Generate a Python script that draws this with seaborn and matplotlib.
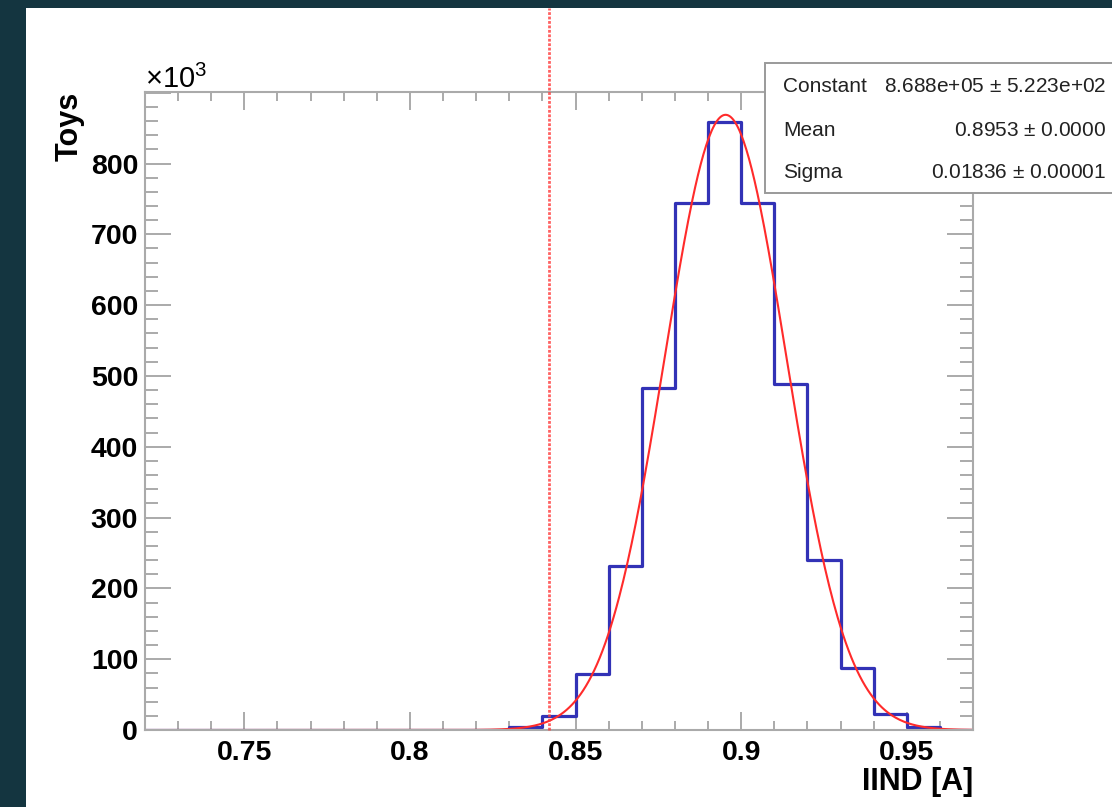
import numpy as np
import pandas as pd
import matplotlib
matplotlib.use("Agg")
import matplotlib.pyplot as plt
from matplotlib.patches import Rectangle
from matplotlib.ticker import MultipleLocator, FuncFormatter
import seaborn as sns

# ---- data -------------------------------------------------------------
bin_width = 0.01
bin_low_edges = [0.72, 0.73, 0.74, 0.75, 0.76, 0.77, 0.78, 0.79,
                 0.80, 0.81, 0.82, 0.83, 0.84, 0.85, 0.86, 0.87,
                 0.88, 0.89, 0.90, 0.91, 0.92, 0.93, 0.94, 0.95, 0.96]
toys = [0, 0, 0, 0, 0, 0, 0, 0,
        0, 60, 600, 3900, 19500, 78500, 231500, 483000,
        744500, 858000, 744500, 488000, 240000, 87000, 22000, 4200, 700]

fit_constant, fit_constant_err = 8.688e5, 5.223e2
fit_mean, fit_mean_err = 0.8953, 0.0000
fit_sigma, fit_sigma_err = 0.01836, 0.00001
threshold = 0.8419

x_range = (0.72, 0.97)
y_max = 901000
x_title = "IIND [A]"
y_title = "Toys"

# ---- style --------------------------------------------------------------
sns.set_style("ticks")
plt.rcParams["font.family"] = ["Liberation Sans", "DejaVu Sans"]
plt.rcParams["mathtext.fontset"] = "custom"
plt.rcParams["mathtext.rm"] = "Liberation Sans"
plt.rcParams["text.color"] = "black"

W, H = 1112, 807
fig = plt.figure(figsize=(W / 100, H / 100), dpi=100)
fig.patch.set_facecolor("#143540")

# white canvas
fig.patches.append(Rectangle((26 / W, 0), 1, 1 - 8 / H, transform=fig.transFigure,
                             facecolor="white", edgecolor="none", zorder=-10))

ax_l, ax_r, ax_t, ax_b = 145, 973, 92, 730
ax = fig.add_axes([ax_l / W, 1 - ax_b / H, (ax_r - ax_l) / W, (ax_b - ax_t) / H])
ax.set_zorder(1)
ax.set_facecolor("white")

df = pd.DataFrame({"x": np.array(bin_low_edges) + bin_width / 2, "toys": toys})
sns.histplot(data=df, x="x", weights="toys", binwidth=bin_width, binrange=x_range,
             element="step", fill=False, color="#3232b6", linewidth=2.3, ax=ax)

# gaussian fit drawn from its fitted parameters
xf = np.linspace(x_range[0], x_range[1], 600)
fit_df = pd.DataFrame({"x": xf,
                       "y": fit_constant * np.exp(-0.5 * ((xf - fit_mean) / fit_sigma) ** 2)})
sns.lineplot(data=fit_df, x="x", y="y", color="#ff2b2b", linewidth=1.5, ax=ax)

# threshold marker reaching to the top of the canvas
ax.axvline(threshold, ymin=0, ymax=(ax_b - 8) / (ax_b - ax_t), clip_on=False,
           color="#ff3a3a", linewidth=2.0, linestyle=(0, (1, 0.6)), alpha=0.8, zorder=5)

ax.set_xlim(*x_range)
ax.set_ylim(0, y_max)
ax.set_xlabel("")
ax.set_ylabel("")

ax.xaxis.set_major_locator(MultipleLocator(0.05))
ax.xaxis.set_minor_locator(MultipleLocator(0.01))
ax.yaxis.set_major_locator(MultipleLocator(100000))
ax.yaxis.set_minor_locator(MultipleLocator(20000))
ax.xaxis.set_major_formatter(FuncFormatter(lambda v, p: f"{round(v, 3):g}"))
# the top tick sits under the x10^3 exponent, so it stays unlabelled
ax.yaxis.set_major_formatter(FuncFormatter(
    lambda v, p: "" if v >= 899000 else f"{v / 1000:g}"))

frame = "#aaaaaa"
for s in ax.spines.values():
    s.set_color(frame)
    s.set_linewidth(1.5)
    s.set_visible(True)

ax.tick_params(axis="both", which="both", direction="in", color=frame, width=1.4,
               top=True, right=True, labelcolor="black")
ax.tick_params(axis="x", which="major", length=13, pad=7, labelsize=20.5)
ax.tick_params(axis="x", which="minor", length=6.5)
ax.tick_params(axis="y", which="major", length=19, pad=5, labelsize=20.5)
ax.tick_params(axis="y", which="minor", length=9.5)
for lab in ax.get_xticklabels() + ax.get_yticklabels():
    lab.set_fontweight("bold")

# axis titles
fig.text(70 / W, 1 - ax_t / H, y_title, rotation=90, ha="center", va="top",
         fontsize=22, fontweight="bold", color="black")
fig.text(ax_r / W, 1 - 790 / H, x_title, ha="right", va="baseline",
         fontsize=22, fontweight="bold", color="black")
fig.text(ax_l / W, 1 - 88 / H, r"$\times$10$^{3}$", ha="left", va="baseline",
         fontsize=21, color="black")

# fit statistics box
bx_l, bx_t, bx_b = 765, 63, 193
fig.patches.append(Rectangle((bx_l / W, 1 - bx_b / H), 1, (bx_b - bx_t) / H,
                             transform=fig.transFigure, facecolor="white",
                             edgecolor="#9a9a9a", linewidth=1.4, zorder=10))
rows = [("Constant", f"{fit_constant:.3e} $\\pm$ {fit_constant_err:.3e}"),
        ("Mean", f"{fit_mean:.4f} $\\pm$ {fit_mean_err:.4f}"),
        ("Sigma", f"{fit_sigma:.5f} $\\pm$ {fit_sigma_err:.5f}")]
for i, (name, val) in enumerate(rows):
    yc = 1 - (87 + 43 * i) / H
    fig.text(783 / W, yc, name, ha="left", va="center", fontsize=15,
             color="#222222", zorder=11)
    fig.text(1106 / W, yc, val, ha="right", va="center", fontsize=15,
             color="#222222", zorder=11)

fig.savefig("out.png", dpi=100, facecolor=fig.get_facecolor())
